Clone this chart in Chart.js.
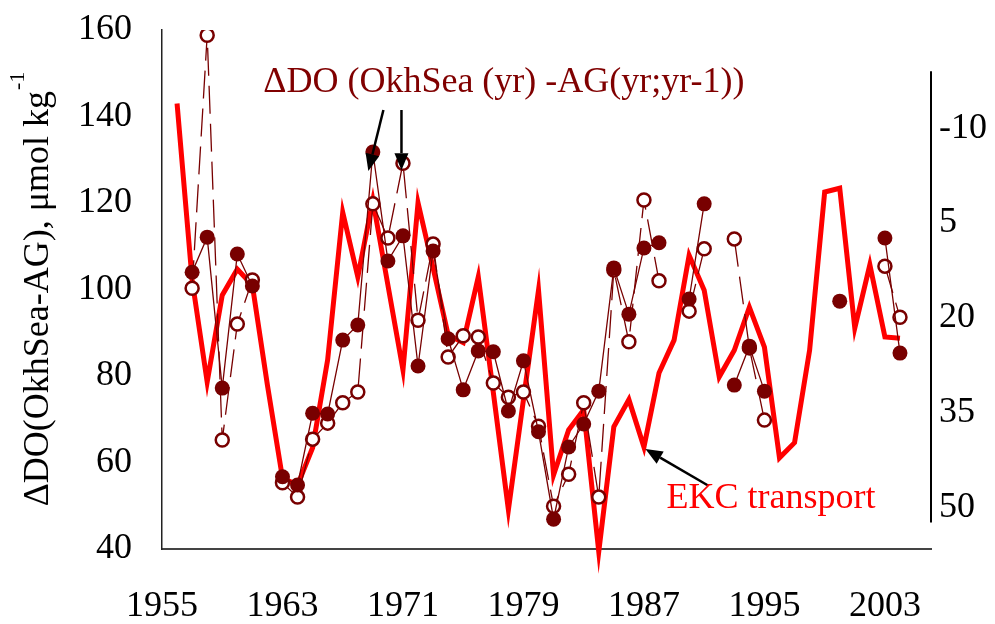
<!DOCTYPE html>
<html>
<head>
<meta charset="utf-8">
<script src="https://cdn.jsdelivr.net/npm/chart.js@4.4.1/dist/chart.umd.min.js"></script>
<style>
  html, body { margin: 0; padding: 0; background: #fff; }
</style>
</head>
<body>
<canvas id="chart" width="995" height="624"></canvas>
<script>
// years 1956 .. 2004
const years = [1956, 1957, 1958, 1959, 1960, 1961, 1962, 1963, 1964, 1965,
  1966, 1967, 1968, 1969, 1970, 1971, 1972, 1973, 1974, 1975,
  1976, 1977, 1978, 1979, 1980, 1981, 1982, 1983, 1984, 1985,
  1986, 1987, 1988, 1989, 1990, 1991, 1992, 1993, 1994, 1995,
  1996, 1997, 1998, 1999, 2000, 2001, 2002, 2003, 2004];

// EKC transport (right axis, reversed)
const ekcTransport = [-13.9, 14.0, 30.1, 16.4, 12.3, 14.8, 30.6, 45.3, 46.4, 40.5,
  26.6, 3.3, 13.5, 1.4, 14.8, 28.2, 1.8, 12.1, 22.7, 23.9,
  13.5, 31.8, 50.3, 32.9, 15.6, 44.8, 37.7, 34.5, 56.9, 37.2,
  32.9, 40.4, 28.7, 23.5, 10.1, 15.6, 29.3, 25.1, 18.3, 24.6,
  42.1, 39.7, 25.1, 0.1, -0.5, 21.6, 11.6, 23.0, 23.2];

// dDO OkhSea(yr) - AG(yr)  (filled circles)
const doSameYear = [null, 104.0, 112.1, 77.2, 108.2, 100.8, null, 56.7, 54.8, 71.4,
  71.2, 88.3, 91.8, 131.8, 106.6, 112.4, 82.3, 108.9, 88.6, 76.8,
  85.8, 85.6, 71.9, 83.5, 67.1, 46.9, 63.6, 68.9, 76.5, 105.0,
  94.3, 109.6, 110.8, null, 97.8, 119.8, null, 77.9, 86.9, 76.5,
  null, null, null, null, 97.3, null, null, 111.9, 85.3];

// dDO OkhSea(yr) - AG(yr;yr-1)  (open circles)
const doTwoYear = [null, 100.3, 158.8, 65.2, 92.0, 102.2, null, 55.3, 52.0, 65.4,
  69.1, 73.8, 76.3, 119.8, 111.9, 129.2, 92.9, 110.5, 84.4, 89.3,
  89.0, 78.4, 75.1, 76.3, 68.4, 49.9, 57.3, 73.8, 52.0, 104.5,
  87.9, 120.7, 102.0, null, 95.0, 109.4, null, 111.7, 86.5, 69.8,
  null, null, null, null, null, null, null, 105.4, 93.6];

const yearTicks = [1955, 1963, 1971, 1979, 1987, 1995, 2003];
const leftTicks = [40, 60, 80, 100, 120, 140, 160];
const rightTicks = [-10, 5, 20, 35, 50];

const DARK = "#780000";
const FONT = '"Liberation Serif", "Times New Roman", serif';

function toPoints(vals) {
  return years.map((yr, i) => ({ x: yr, y: vals[i] }));
}

function drawArrow(ctx, x1, y1, x2, y2) {
  const ang = Math.atan2(y2 - y1, x2 - x1);
  const head = 17, half = 7;
  const bx = x2 - head * Math.cos(ang), by = y2 - head * Math.sin(ang);
  ctx.beginPath();
  ctx.moveTo(x1, y1);
  ctx.lineTo(bx, by);
  ctx.stroke();
  ctx.beginPath();
  ctx.moveTo(x2, y2);
  ctx.lineTo(bx + half * Math.sin(ang), by - half * Math.cos(ang));
  ctx.lineTo(bx - half * Math.sin(ang), by + half * Math.cos(ang));
  ctx.closePath();
  ctx.fill();
}

const overlay = {
  id: "overlay",
  afterDatasetsDraw(chart) {
    const { ctx, scales: { x, y, y2 } } = chart;
    ctx.save();

    // short right axis line
    ctx.strokeStyle = "#000";
    ctx.lineWidth = 2;
    ctx.beginPath();
    ctx.moveTo(x.right, y2.getPixelForValue(-19));
    ctx.lineTo(x.right, y2.getPixelForValue(52.3));
    ctx.stroke();

    // annotation labels
    ctx.font = "36px " + FONT;
    ctx.textBaseline = "alphabetic";
    ctx.fillStyle = "#800000";
    ctx.textAlign = "center";
    ctx.fillText("\u0394DO (OkhSea (yr) -AG(yr;yr-1))", x.getPixelForValue(1977.7), y.getPixelForValue(145.7));
    ctx.fillStyle = "#ff0000";
    ctx.textAlign = "left";
    ctx.fillText("EKC transport", x.getPixelForValue(1988.5), y.getPixelForValue(49.5));

    // arrows
    ctx.strokeStyle = "#000";
    ctx.fillStyle = "#000";
    ctx.lineWidth = 2.5;
    drawArrow(ctx, x.getPixelForValue(1969.7), y.getPixelForValue(141.5), x.getPixelForValue(1968.7), y.getPixelForValue(127.4));
    drawArrow(ctx, x.getPixelForValue(1970.9), y.getPixelForValue(141.5), x.getPixelForValue(1970.9), y.getPixelForValue(127.6));
    drawArrow(ctx, x.getPixelForValue(1991.2), y.getPixelForValue(54.8), x.getPixelForValue(1987.1), y.getPixelForValue(63.1));

    // left axis title with superscript
    const area = chart.chartArea;
    const main = "\u0394DO(OkhSea-AG), \u03bcmol kg";
    const sup = "-1";
    ctx.font = "36px " + FONT;
    const w1 = ctx.measureText(main).width;
    ctx.font = "22px " + FONT;
    const w2 = ctx.measureText(sup).width;
    ctx.translate(48, (area.top + area.bottom) / 2);
    ctx.rotate(-Math.PI / 2);
    ctx.fillStyle = "#000";
    ctx.textAlign = "left";
    ctx.font = "36px " + FONT;
    ctx.fillText(main, -(w1 + w2) / 2, 0);
    ctx.font = "22px " + FONT;
    ctx.fillText(sup, -(w1 + w2) / 2 + w1 + 1, -24);
    ctx.restore();
  }
};

new Chart(document.getElementById("chart").getContext("2d"), {
  type: "line",
  data: {
    datasets: [
      {
        label: "dDO two-year",
        data: toPoints(doTwoYear),
        yAxisID: "y",
        borderColor: DARK,
        borderWidth: 1.3,
        borderDash: [28, 10],
        pointRadius: 6.5,
        pointBorderWidth: 2.5,
        pointBackgroundColor: "#fff",
        pointBorderColor: DARK,
        spanGaps: false,
        order: 2
      },
      {
        label: "dDO same year",
        data: toPoints(doSameYear),
        yAxisID: "y",
        borderColor: DARK,
        borderWidth: 1.3,
        pointRadius: 7.5,
        pointBorderWidth: 0,
        pointBackgroundColor: DARK,
        pointBorderColor: DARK,
        spanGaps: false,
        order: 1
      },
      {
        label: "EKC transport",
        data: toPoints(ekcTransport),
        yAxisID: "y2",
        borderColor: "#ff0000",
        borderWidth: 5,
        pointRadius: 0,
        borderJoinStyle: "miter",
        clip: false,
        order: 3
      }
    ]
  },
  options: {
    responsive: false,
    animation: false,
    layout: { padding: { top: 30, right: 0, left: 0, bottom: 0 } },
    plugins: {
      legend: { display: false },
      tooltip: { enabled: false }
    },
    scales: {
      x: {
        type: "linear",
        min: 1955,
        max: 2006.06,
        afterBuildTicks: s => { s.ticks = yearTicks.map(v => ({ value: v })); },
        afterFit: s => { s.height = 75; },
        ticks: {
          padding: 36,
          color: "#000",
          font: { family: FONT, size: 36 },
          maxRotation: 0,
          autoSkip: false,
          callback: v => String(v)
        },
        grid: { display: false, drawTicks: false },
        border: { display: true, color: "#444", width: 2 }
      },
      y: {
        position: "left",
        min: 40,
        max: 160,
        afterBuildTicks: s => { s.ticks = leftTicks.map(v => ({ value: v })); },
        afterFit: s => { s.width = 162; s.paddingTop = 0; s.paddingBottom = 0; },
        ticks: {
          padding: 30,
          color: "#000",
          font: { family: FONT, size: 36 }
        },
        grid: { display: false, drawTicks: false },
        border: { display: true, color: "#222", width: 1.5 }
      },
      y2: {
        position: "right",
        reverse: true,
        min: -25.5,
        max: 56.5,
        afterBuildTicks: s => { s.ticks = rightTicks.map(v => ({ value: v })); },
        afterFit: s => { s.width = 64; s.paddingTop = 0; s.paddingBottom = 0; },
        ticks: {
          padding: 8,
          color: "#000",
          font: { family: FONT, size: 36 }
        },
        grid: { display: false, drawTicks: false },
        border: { display: false }
      }
    }
  },
  plugins: [overlay]
});
</script>
</body>
</html>
